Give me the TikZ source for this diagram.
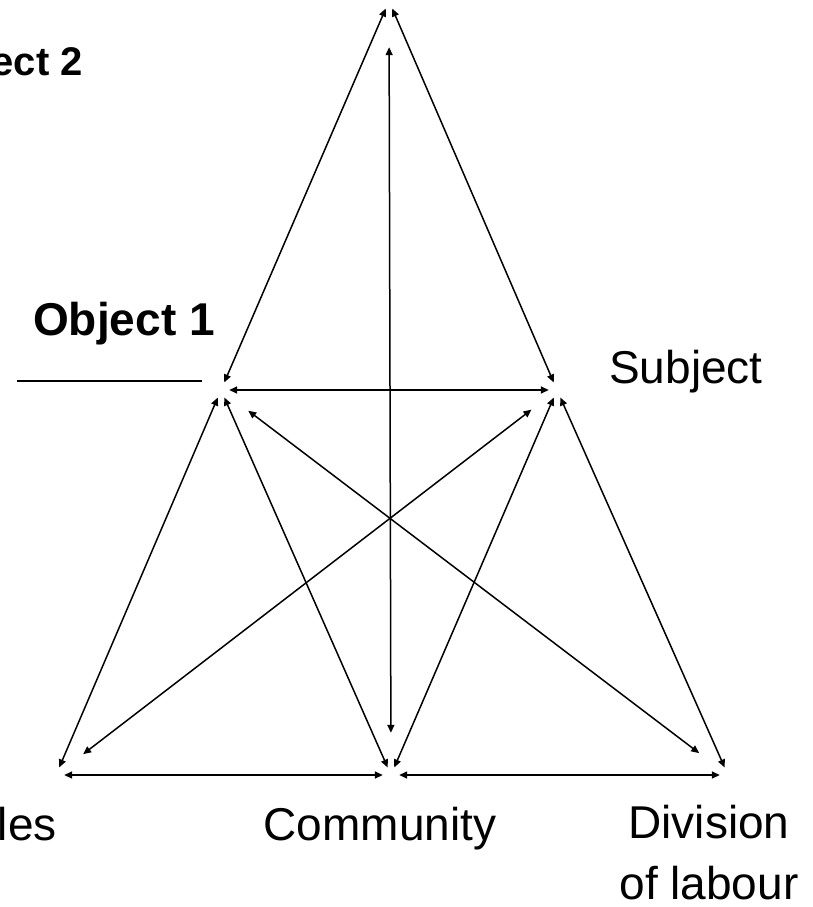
\documentclass[tikz,border=0pt]{standalone}
\usepackage{fontspec}
\setmainfont{Liberation Sans}
\usetikzlibrary{arrows.meta}

\begin{document}
\begin{tikzpicture}[
    x=1pt, y=-1pt,
    font=\fontsize{46}{61}\selectfont,
    vtx/.style={circle, inner sep=0pt, minimum size=16pt},
    lab/.style={inner sep=0pt},
    arr/.style={{Triangle[length=8pt,width=7pt]}-{Triangle[length=8pt,width=7pt]}, line width=1.5pt},
    uline/.style={line width=1.5pt}
  ]
    \useasboundingbox (0,0) rectangle (813,907);
    \node[vtx] (top) at (389,1) {};
    \node[vtx] (obj) at (221,390) {};
    \node[vtx] (subj) at (557,390) {};
    \node[vtx] (rules) at (56,775) {};
    \node[vtx] (comm) at (391,775) {};
    \node[vtx] (div) at (728,775) {};
    \node[lab, anchor=base east, font=\fontsize{40}{50}\selectfont\bfseries] (objtwolab) at (83,75) {Object 2};
    \node[lab, anchor=base west, font=\fontsize{46}{61}\selectfont\bfseries] (objonelab) at (33,335) {Object 1};
    \node[lab, anchor=base west] (subjlab) at (609,383) {Subject};
    \node[lab, anchor=base east] (ruleslab) at (57,840) {Rules};
    \node[lab, anchor=base] (commlab) at (380,840) {Community};
    \node[lab, anchor=north, align=center] (divlab) at (709,805) {Division\\of labour};
    \coordinate (ulstart) at (17,381);
    \draw[uline] (ulstart) -- ++(185,0);
    \draw[arr] (top) -- (obj);
    \draw[arr] (top) -- (subj);
    \draw[arr, shorten <=38pt, shorten >=34pt] (top) -- (comm);
    \draw[arr] (obj) -- (subj);
    \draw[arr] (obj) -- (rules);
    \draw[arr] (obj) -- (comm);
    \draw[arr, shorten <=26pt, shorten >=28pt] (obj) -- (div);
    \draw[arr] (subj) -- (comm);
    \draw[arr] (subj) -- (div);
    \draw[arr, shorten <=24pt, shorten >=26pt] (subj) -- (rules);
    \draw[arr] (rules) -- (comm);
    \draw[arr] (comm) -- (div);
\end{tikzpicture}
\end{document}
